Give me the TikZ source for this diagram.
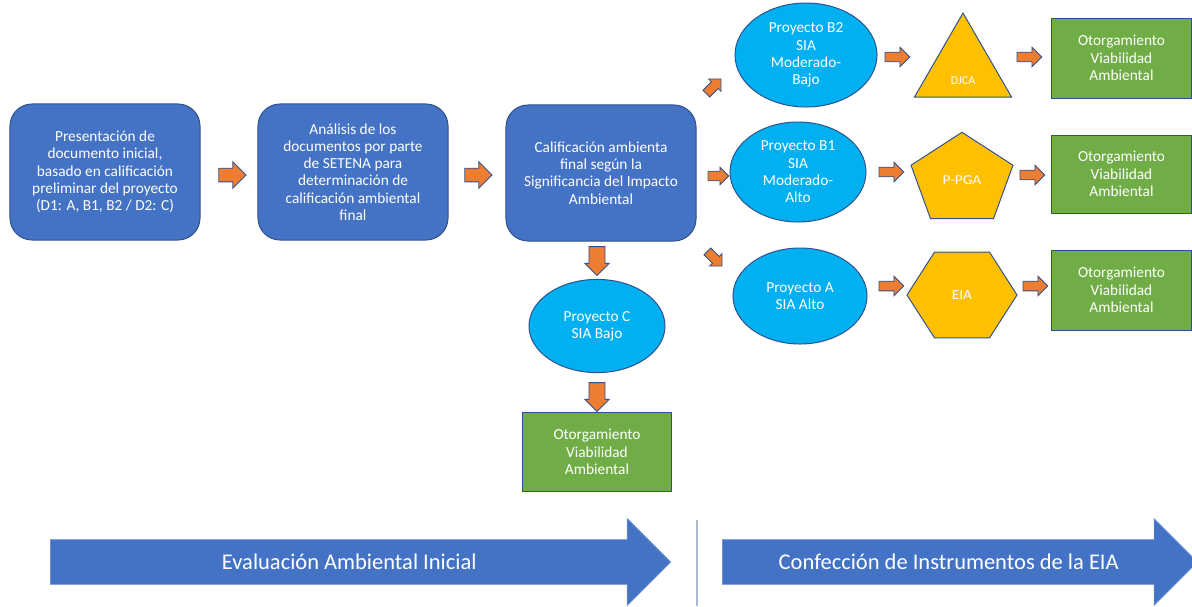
\documentclass[tikz,border=0pt]{standalone}
\usepackage{fontspec}
\setmainfont{Carlito}
\usetikzlibrary{shapes.geometric,shapes.arrows}
\definecolor{azul}{HTML}{4472C4}
\definecolor{azulborde}{HTML}{2F528F}
\definecolor{celeste}{HTML}{00B0F0}
\definecolor{dorado}{HTML}{FFC000}
\definecolor{verde}{HTML}{70AD47}
\definecolor{naranja}{HTML}{ED7D31}
\definecolor{gris}{HTML}{A9B9D0}

\begin{document}
\begin{tikzpicture}[x=0.025cm,y=-0.025cm,
    txt/.style={text=white,font=\fontsize{10.9}{12.3}\selectfont,align=center},
    caja/.style={txt,rectangle,rounded corners=0.55cm,fill=azul,draw=azulborde,line width=0.7pt,minimum width=4.75cm,minimum height=3.4cm,inner sep=0pt},
    proy/.style={txt,ellipse,fill=celeste,draw=azulborde,line width=0.7pt,inner sep=0pt},
    otorg/.style={txt,rectangle,fill=verde,draw=azulborde,line width=0.7pt,inner sep=0pt},
    instr/.style={txt,regular polygon,fill=dorado,draw=azulborde,line width=0.7pt,inner sep=0pt},
    flecha/.style={single arrow,single arrow head indent=0pt,fill=naranja,draw=azulborde,line width=0.6pt,inner xsep=0pt},
    flechaG/.style={flecha,minimum height=0.68cm,minimum width=0.65cm,inner ysep=0.16cm,single arrow head extend=0.16cm},
    flechaV/.style={flecha,rotate=-90,minimum height=0.72cm,minimum width=0.58cm,inner ysep=0.19cm,single arrow head extend=0.1cm},
    flechaC/.style={flecha,minimum height=0.62cm,minimum width=0.48cm,inner ysep=0.11cm,single arrow head extend=0.125cm},
    flechaD/.style={flecha,minimum height=0.52cm,minimum width=0.42cm,inner ysep=0.11cm,single arrow head extend=0.1cm},
    etapa/.style={single arrow,single arrow head indent=0pt,fill=azul,draw=azul!80!white,line width=0.5pt,inner xsep=0pt,inner ysep=8.15pt,text height=13pt,text depth=2pt,minimum width=2.15cm,single arrow head extend=0.525cm,anchor=tail,text=white,font=\fontsize{16}{18}\selectfont}]
  \useasboundingbox (0,0) rectangle (1192,606);

  \node[caja] (pres) at (105,172) {Presentación de\\documento inicial,\\basado en calificación\\preliminar del proyecto\\(D1: A, B1, B2 / D2: C)};
  \node[caja] (anal) at (353,172) {Análisis de los\\documentos por parte\\de SETENA para\\determinación de\\calificación ambiental\\final};
  \node[caja] (calif) at (601,173) {Calificación ambienta\\final según la\\Significancia del Impacto\\Ambiental};

  \node[proy,minimum width=3.4cm,minimum height=2.33cm] (projC) at (597,326) {Proyecto C\\SIA Bajo};
  \node[otorg,minimum width=3.725cm,minimum height=1.975cm] (otorgC) at (597,452) {Otorgamiento\\Viabilidad\\Ambiental};

  \node[proy,minimum width=3.55cm,minimum height=2.6cm] (projB2) at (806,55) {Proyecto B2\\SIA\\Moderado-\\Bajo};
  \node[proy,minimum width=3.4cm,minimum height=2.5cm] (projB1) at (798,172) {Proyecto B1\\SIA\\Moderado-\\Alto};
  \node[proy,minimum width=3.35cm,minimum height=2.4cm] (projA) at (800,296) {Proyecto A\\SIA Alto};

  \node[instr,regular polygon sides=3,minimum size=2.8cm,label={[txt,font=\fontsize{8.5}{9}\selectfont,yshift=-8pt]center:DJCA}] (djca) at (963,69) {};
  \node[instr,regular polygon sides=5,minimum size=2.68cm,yscale=0.89,transform shape] (ppga) at (962,180) {P-PGA};
  \node[instr,regular polygon sides=6,minimum size=2.75cm,yscale=0.9,transform shape] (eia) at (962,295) {EIA};

  \node[otorg,minimum width=3.475cm,minimum height=2cm] (otorgB2) at (1121.5,58) {Otorgamiento\\Viabilidad\\Ambiental};
  \node[otorg,minimum width=3.475cm,minimum height=1.95cm] (otorgB1) at (1121.5,174) {Otorgamiento\\Viabilidad\\Ambiental};
  \node[otorg,minimum width=3.475cm,minimum height=2cm] (otorgA) at (1121.5,290) {Otorgamiento\\Viabilidad\\Ambiental};

  \node[flechaG] (f1) at (229,175) {};
  \node[flechaG] (f2) at (475,175) {};
  \node[flechaV] (f3) at (597,257) {};
  \node[flechaV] (f4) at (597,393) {};
  \node[flechaD,rotate=45] (f5) at (712,88) {};
  \node[flechaD] (f6) at (716,176) {};
  \node[flechaD,rotate=-45] (f7) at (713,257) {};
  \node[flechaC] (f8) at (895,57) {};
  \node[flechaC] (f9) at (1027,57) {};
  \node[flechaC] (f10) at (889,172) {};
  \node[flechaC] (f11) at (1030,175) {};
  \node[flechaC] (f12) at (889,286) {};
  \node[flechaC] (f13) at (1033,286) {};

  \node[etapa,minimum height=15.5cm] (evalini) at (50,562) {Evaluación Ambiental Inicial};
  \node[etapa,minimum height=11.875cm] (confins) at (722,562) {Confección de Instrumentos de la EIA};
  \draw[gris,line width=1.4pt] (697,520) -- (697,606);
\end{tikzpicture}
\end{document}
